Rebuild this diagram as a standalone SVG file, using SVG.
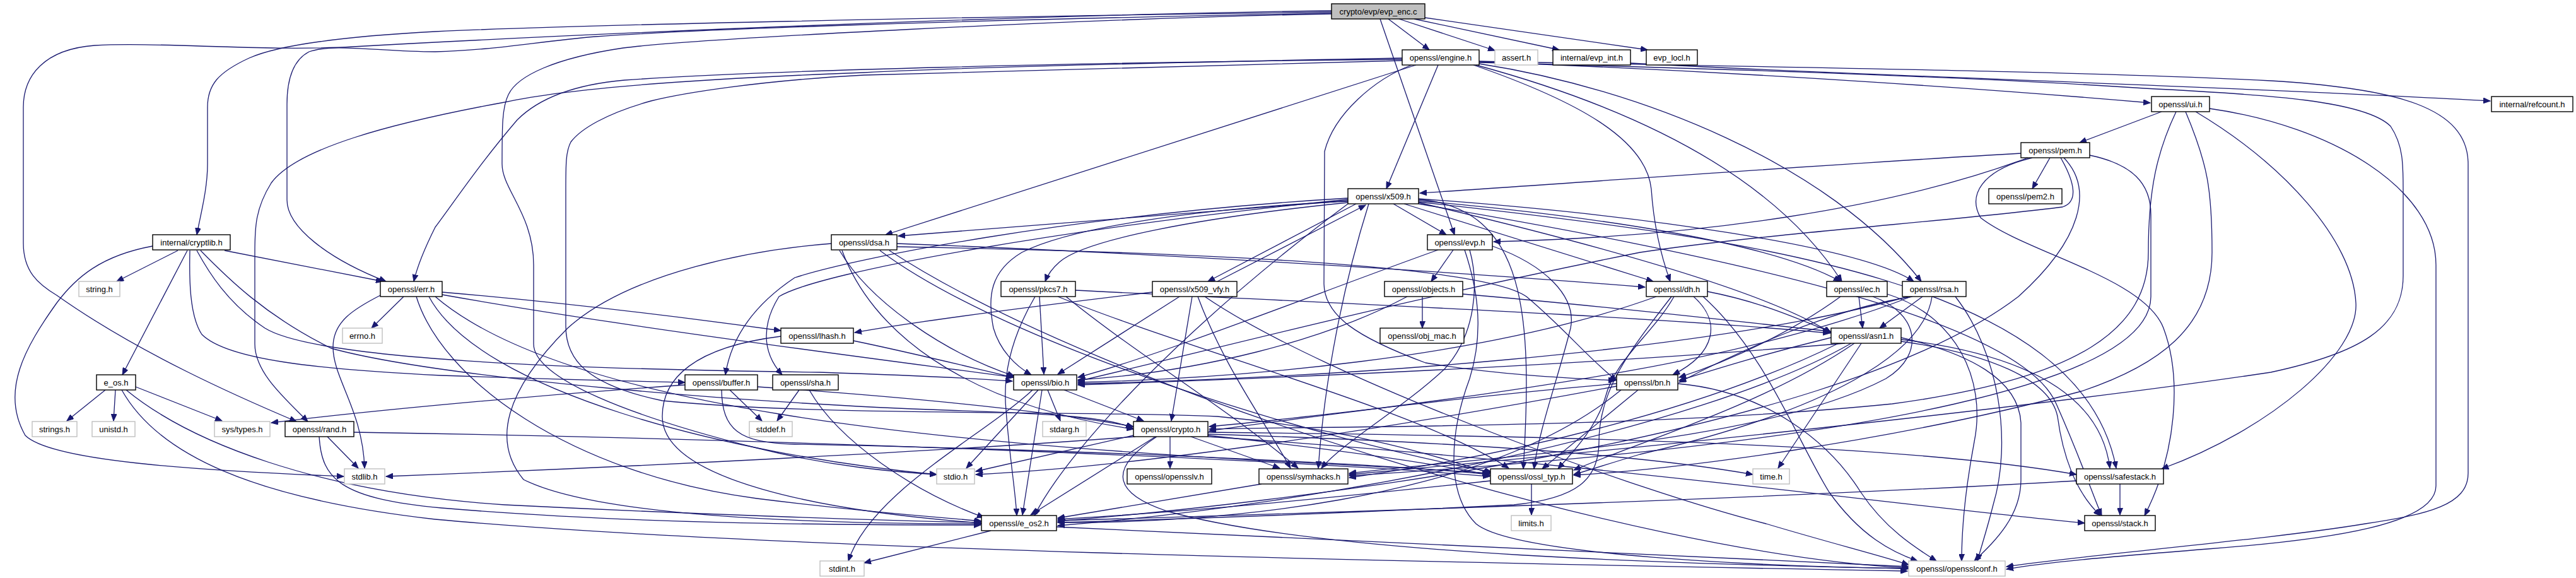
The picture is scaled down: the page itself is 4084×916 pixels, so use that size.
<svg xmlns="http://www.w3.org/2000/svg" width="4084" height="916" viewBox="0 0 4084 916">
<defs>
<marker id="arr" markerUnits="userSpaceOnUse" markerWidth="12" markerHeight="9" refX="11" refY="4.5" orient="auto"><path d="M0,0 L11,4.5 L0,9 Z" fill="#191970" stroke="#191970" stroke-width="1"/></marker>
<style>
.edges path{fill:none;stroke:#191970;stroke-width:1.3;marker-end:url(#arr)}
.node rect{fill:#fff;stroke:#000;stroke-width:1.4}
.node.sys rect{stroke:#bfbfbf}
.node.root rect{fill:#bfbfbf}
.node text{font-family:"Liberation Sans",Arial,Helvetica,sans-serif;font-size:13px;text-anchor:middle;fill:#000}
</style>
</defs>
<rect x="0" y="0" width="4084" height="916" fill="#fff"/>
<g id="connectors" class="edges">
<path d="M2201,30 L2266,79"/>
<path d="M2218,30 L2370,80"/>
<path d="M2242,30 L2472,79"/>
<path d="M2259,28 L2612,79"/>
<path d="M2188,30 L2306,372"/>
<path d="M2111,17 C1600,24 900,55 560,74 C420,82 250,66 150,72 C70,78 37,120 37,170 L37,385 C37,430 60,450 90,468 C220,560 380,630 470,668"/>
<path d="M2111,19 C1500,27 900,40 690,50 C540,58 440,72 395,92 C345,115 329,135 329,170 L329,260 C329,300 318,340 312,372"/>
<path d="M2111,21 C1500,32 1100,47 944,58 C850,66 780,80 690,82 C600,82 530,68 490,82 C465,95 455,125 455,165 L455,317 C455,360 520,410 612,446"/>
<path d="M2111,22 C1700,30 1100,62 988,76 C880,92 820,120 806,150 C796,170 796,200 796,260 C796,300 846,340 846,420 L846,545 C846,600 1000,660 1200,710 C1320,740 1420,748 1485,752"/>
<path d="M2280,103 L2198,299"/>
<path d="M2245,103 L1404,372"/>
<path d="M2238,103 C2180,125 2115,180 2100,240 L2099,450 C2100,500 2150,534 2260,575 C2380,595 2500,600 2561,603"/>
<path d="M2336,103 C2500,160 2610,220 2618,300 C2622,360 2635,410 2648,446"/>
<path d="M2340,103 C2550,160 2800,260 2920,446"/>
<path d="M2345,101 C2600,140 2900,260 3046,446"/>
<path d="M2223,92 C1800,100 1500,108 1370,115 C1100,125 900,140 800,162 C620,195 470,235 430,290 C405,330 404,360 404,400 L404,545 C404,590 450,630 488,668"/>
<path d="M2345,98 C2800,115 3200,145 3409,163"/>
<path d="M2223,94 C1700,99 1200,112 990,127 C900,135 850,160 820,190 C760,260 720,320 690,360 C675,390 662,420 656,446"/>
<path d="M2223,96 C1800,106 1500,114 1370,119 C1200,128 1080,148 1032,160 C960,180 920,205 905,225 C897,240 897,260 897,300 L897,517 C897,570 930,610 1050,635 C1300,660 1700,650 1930,660 C2150,680 2300,730 2363,750"/>
<path d="M2345,99 C2700,108 3100,120 3400,140 C3600,150 3750,160 3790,200 C3810,230 3810,260 3810,300 L3810,437 C3810,520 3740,560 3600,590 C3200,650 2500,720 2139,752"/>
<path d="M2345,97 C2700,105 3300,112 3600,128 C3800,140 3913,170 3913,260 L3913,750 C3913,800 3850,815 3750,830 C3600,855 3300,880 3181,898"/>
<path d="M2585,100 C2900,118 3500,135 3948,160"/>
<path d="M3427,177 L3297,226"/>
<path d="M3503,172 C3700,200 3862,300 3862,420 L3862,770 C3862,830 3700,855 3500,870 C3350,882 3250,890 3181,902"/>
<path d="M3450,177 C3420,240 3406,300 3406,400 C3406,520 3300,600 3000,640 C2600,680 2100,675 1917,680"/>
<path d="M3481,177 C3620,260 3730,380 3735,480 C3740,560 3600,680 3427,743"/>
<path d="M3465,177 C3500,260 3507,300 3507,400 C3507,520 3420,580 3300,620 C3000,700 2650,745 2495,753"/>
<path d="M3204,243 C2900,260 2500,290 2251,306"/>
<path d="M3250,250 L3222,299"/>
<path d="M3215,250 C3000,330 2700,375 2368,383"/>
<path d="M3222,250 C3140,270 3120,310 3140,345 C3210,400 3400,440 3430,520 C3460,600 3450,720 3400,817"/>
<path d="M3267,250 C3290,290 3295,320 3270,328 C3100,350 2800,370 2600,400 C2200,480 1900,560 1709,604"/>
<path d="M3272,250 C3320,300 3300,380 3200,470 C2900,700 2000,800 1677,826"/>
<path d="M3313,246 C3380,260 3410,290 3410,340 L3410,470 C3410,600 3000,700 2139,754"/>
<path d="M2209,323 L2293,372"/>
<path d="M2226,323 L2621,446"/>
<path d="M2137,318 L1424,374"/>
<path d="M2150,323 L1915,446"/>
<path d="M2137,321 C1900,345 1720,380 1680,415 C1665,428 1660,438 1657,446"/>
<path d="M2137,319 C1900,330 1700,360 1620,400 C1570,430 1565,470 1575,520 C1585,555 1610,580 1635,594"/>
<path d="M2137,316 C1700,360 1300,430 1235,470 C1210,510 1205,555 1240,594"/>
<path d="M2137,314 C1700,340 1350,410 1260,440 C1200,480 1160,530 1150,594"/>
<path d="M2249,318 C2500,340 2800,380 2918,446"/>
<path d="M2249,315 C2600,340 2950,390 3034,446"/>
<path d="M2249,321 C2500,380 2800,460 2903,528"/>
<path d="M2249,323 C2700,400 3200,500 3260,640 C3300,730 3320,790 3332,817"/>
<path d="M2249,320 C2800,380 3300,450 3355,742"/>
<path d="M2170,323 C2130,450 2100,600 2090,742"/>
<path d="M2249,316 C2420,330 2430,500 2415,743"/>
<path d="M2137,323 C1900,500 1700,700 1640,817"/>
<path d="M1870,470 L1677,593"/>
<path d="M1890,470 L1857,667"/>
<path d="M1899,470 C1940,580 2000,660 2046,742"/>
<path d="M1827,463 C1600,490 1450,510 1355,527"/>
<path d="M1910,470 C2100,600 2600,780 2800,830 C2900,860 2980,880 3026,895"/>
<path d="M1648,470 L1655,593"/>
<path d="M1641,470 C1600,540 1590,600 1595,650 C1600,720 1610,780 1612,817"/>
<path d="M1677,470 C1900,560 2250,650 2392,742"/>
<path d="M1705,460 C2100,480 2600,500 2901,528"/>
<path d="M1690,470 C1800,560 1950,650 2058,742"/>
<path d="M2255,470 L2255,520"/>
<path d="M2231,470 C2100,540 1900,590 1709,602"/>
<path d="M2319,466 C2600,490 2800,515 2901,525"/>
<path d="M2304,396 L2269,446"/>
<path d="M2280,396 C2100,460 1850,560 1709,598"/>
<path d="M2330,396 C2345,450 2340,530 2290,585 C2220,650 2130,700 2095,742"/>
<path d="M2366,390 C2450,420 2500,470 2490,520 C2470,600 2440,680 2432,743"/>
<path d="M2322,396 C2340,450 2355,520 2330,600 C2300,680 2290,780 2340,830 C2400,880 2800,898 3026,901"/>
<path d="M2685,470 C2730,510 2720,560 2652,594"/>
<path d="M2654,470 C2620,530 2560,570 2545,630 C2530,680 2490,720 2470,743"/>
<path d="M2650,470 C2580,560 2535,620 2535,700 C2535,760 2500,790 2400,800 C2100,815 1900,822 1677,828"/>
<path d="M2626,470 C2350,570 1950,600 1709,606"/>
<path d="M2707,462 C2800,480 2860,510 2903,526"/>
<path d="M2700,470 C2800,560 2850,700 2900,780 C2950,850 3000,875 3040,889"/>
<path d="M2947,470 L2953,520"/>
<path d="M2918,470 C2850,520 2750,570 2662,598"/>
<path d="M2969,470 C3040,495 3055,560 2990,600 C2800,700 2400,720 2139,750"/>
<path d="M2992,466 C3100,500 3150,600 3130,700 C3115,780 3110,840 3110,889"/>
<path d="M3048,470 L2980,520"/>
<path d="M3032,470 C2900,490 2750,560 2662,606"/>
<path d="M3025,470 C2700,560 2100,600 1709,608"/>
<path d="M3030,470 C2700,600 2200,640 1917,683"/>
<path d="M3063,470 C3050,560 2900,650 2600,720 C2550,735 2520,745 2495,752"/>
<path d="M3100,470 C3170,560 3190,700 3160,800 C3150,840 3140,870 3135,889"/>
<path d="M2951,544 L2819,742"/>
<path d="M3014,535 C3120,560 3200,600 3204,670 L3204,760 C3204,820 3160,860 3130,889"/>
<path d="M3014,541 C3150,560 3250,600 3262,660 C3270,720 3290,780 3330,817"/>
<path d="M3014,538 C3200,560 3330,620 3345,742"/>
<path d="M2903,535 C2800,560 2720,585 2662,603"/>
<path d="M2925,544 C2500,580 2000,600 1709,610"/>
<path d="M2935,544 C2700,680 2100,800 1677,833"/>
<path d="M2915,544 C2700,650 2400,720 2139,757"/>
<path d="M2940,544 C2800,640 2600,700 2495,745"/>
<path d="M2597,618 L2445,743"/>
<path d="M2563,608 C2300,630 2100,660 1917,676"/>
<path d="M2563,612 C2200,680 1800,740 1547,752"/>
<path d="M2570,618 C2350,800 1900,830 1677,828"/>
<path d="M2660,608 C2800,620 2900,700 2950,780 C2990,840 3040,870 3070,889"/>
<path d="M1646,618 L1532,742"/>
<path d="M1652,618 L1621,816"/>
<path d="M1661,618 L1681,667"/>
<path d="M1687,618 L1813,667"/>
<path d="M1637,618 C1560,690 1380,780 1345,889"/>
<path d="M1855,692 L1855,742"/>
<path d="M1797,690 L1547,747"/>
<path d="M1832,692 L1634,816"/>
<path d="M1800,692 C1500,715 1000,740 612,755"/>
<path d="M1888,692 L2029,742"/>
<path d="M1915,690 C2100,710 2250,730 2363,753"/>
<path d="M1915,688 C2300,700 2600,720 2779,752"/>
<path d="M1915,685 C2400,690 3000,700 3292,752"/>
<path d="M1915,692 C2500,730 3000,800 3305,829"/>
<path d="M1834,692 C1760,740 1760,780 1850,810 C2100,880 2700,895 3026,901"/>
<path d="M282,397 L185,446"/>
<path d="M297,397 L194,594"/>
<path d="M356,397 L607,446"/>
<path d="M242,390 C160,405 120,440 90,480 C40,550 0,620 40,690 C80,730 300,745 545,755"/>
<path d="M301,397 C300,440 300,500 320,530 C360,570 500,585 700,595 C900,602 1000,604 1086,606"/>
<path d="M312,397 C330,430 360,480 420,520 C500,570 900,585 1300,590 C1450,595 1550,600 1605,604"/>
<path d="M318,397 C360,440 420,500 525,552 C700,600 1200,640 1500,650 C1650,655 1760,660 1796,679"/>
<path d="M640,470 L589,520"/>
<path d="M603,468 C560,490 528,510 528,550 C528,600 575,650 578,742"/>
<path d="M701,463 C900,480 1100,505 1238,524"/>
<path d="M701,467 C1000,520 1400,570 1607,598"/>
<path d="M680,470 C760,620 1150,720 1485,752"/>
<path d="M660,470 C700,600 900,750 1200,790 C1400,815 1500,820 1556,826"/>
<path d="M690,470 C900,650 1500,700 2000,730 C2200,740 2300,745 2363,750"/>
<path d="M1353,540 C1450,560 1550,585 1607,598"/>
<path d="M1238,533 C1100,550 1050,600 1050,660 C1050,760 1300,810 1556,829"/>
<path d="M1157,618 L1208,667"/>
<path d="M1086,610 C800,630 550,655 430,670"/>
<path d="M1144,618 C1145,680 1170,702 1260,704 C1700,712 2200,735 2361,752"/>
<path d="M1201,613 C1450,630 1650,650 1797,676"/>
<path d="M1267,618 L1232,667"/>
<path d="M1283,618 C1330,700 1450,780 1560,820"/>
<path d="M519,692 L568,742"/>
<path d="M561,685 C1200,695 2000,725 2362,755"/>
<path d="M506,692 C510,760 540,790 700,805 C1000,830 1300,832 1555,832"/>
<path d="M167,618 L106,667"/>
<path d="M183,618 L180,667"/>
<path d="M215,613 L352,667"/>
<path d="M200,618 C300,700 500,780 800,800 C1100,815 1400,825 1555,828"/>
<path d="M193,618 C250,720 400,790 690,823 C1200,870 2200,890 3024,905"/>
<path d="M2000,767 L1677,821"/>
<path d="M2428,767 L2428,816"/>
<path d="M2363,762 C2100,790 1900,810 1677,823"/>
<path d="M3361,767 L3361,816"/>
<path d="M3292,762 C2800,790 2200,810 1677,825"/>
<path d="M1571,841 L1370,892"/>
<path d="M1675,835 C2200,860 2700,885 3026,898"/>
<path d="M1930,446 L2165,325"/>
<path d="M1422,386 C1800,400 2300,430 2608,455"/>
<path d="M1422,391 C1900,400 2350,420 2420,470 C2480,520 2520,570 2563,603"/>
<path d="M1331,397 C1380,480 1500,560 1608,596"/>
<path d="M1335,397 C1380,520 1520,640 1797,680"/>
<path d="M1318,386 C1200,395 1000,430 900,520 C800,620 780,700 830,760 C950,820 1300,830 1556,830"/>
<path d="M1395,397 C1600,550 2100,700 2365,748"/>
<path d="M1410,397 C1750,620 2600,880 3026,900"/>
</g>
<g id="n_root" class="node root"><rect x="2111" y="6" width="148" height="24"/><text x="2185" y="23">crypto/evp/evp_enc.c</text></g>
<g id="n_engine" class="node"><rect x="2223" y="79" width="122" height="24"/><text x="2284" y="96">openssl/engine.h</text></g>
<g id="n_assert" class="node sys"><rect x="2370" y="79" width="68" height="24"/><text x="2404" y="96">assert.h</text></g>
<g id="n_evp_int" class="node"><rect x="2462" y="79" width="123" height="24"/><text x="2523.5" y="96">internal/evp_int.h</text></g>
<g id="n_evp_locl" class="node"><rect x="2610" y="79" width="81" height="24"/><text x="2650.5" y="96">evp_locl.h</text></g>
<g id="n_ui" class="node"><rect x="3411" y="153" width="92" height="24"/><text x="3457" y="170">openssl/ui.h</text></g>
<g id="n_refcount" class="node"><rect x="3950" y="153" width="129" height="24"/><text x="4014.5" y="170">internal/refcount.h</text></g>
<g id="n_pem" class="node"><rect x="3204" y="226" width="109" height="24"/><text x="3258.5" y="243">openssl/pem.h</text></g>
<g id="n_x509" class="node"><rect x="2137" y="299" width="112" height="24"/><text x="2193" y="316">openssl/x509.h</text></g>
<g id="n_pem2" class="node"><rect x="3153" y="299" width="116" height="24"/><text x="3211" y="316">openssl/pem2.h</text></g>
<g id="n_cryptlib" class="node"><rect x="242" y="372" width="123" height="24"/><text x="303.5" y="389">internal/cryptlib.h</text></g>
<g id="n_dsa" class="node"><rect x="1318" y="372" width="104" height="24"/><text x="1370" y="389">openssl/dsa.h</text></g>
<g id="n_evp" class="node"><rect x="2263" y="372" width="103" height="24"/><text x="2314.5" y="389">openssl/evp.h</text></g>
<g id="n_string" class="node sys"><rect x="125" y="446" width="65" height="24"/><text x="157.5" y="463">string.h</text></g>
<g id="n_err" class="node"><rect x="603" y="446" width="98" height="24"/><text x="652" y="463">openssl/err.h</text></g>
<g id="n_pkcs7" class="node"><rect x="1587" y="446" width="118" height="24"/><text x="1646" y="463">openssl/pkcs7.h</text></g>
<g id="n_x509_vfy" class="node"><rect x="1827" y="446" width="134" height="24"/><text x="1894" y="463">openssl/x509_vfy.h</text></g>
<g id="n_objects" class="node"><rect x="2195" y="446" width="124" height="24"/><text x="2257" y="463">openssl/objects.h</text></g>
<g id="n_dh" class="node"><rect x="2610" y="446" width="97" height="24"/><text x="2658.5" y="463">openssl/dh.h</text></g>
<g id="n_ec" class="node"><rect x="2896" y="446" width="96" height="24"/><text x="2944" y="463">openssl/ec.h</text></g>
<g id="n_rsa" class="node"><rect x="3016" y="446" width="101" height="24"/><text x="3066.5" y="463">openssl/rsa.h</text></g>
<g id="n_errno" class="node sys"><rect x="543" y="520" width="63" height="24"/><text x="574.5" y="537">errno.h</text></g>
<g id="n_lhash" class="node"><rect x="1238" y="520" width="115" height="24"/><text x="1295.5" y="537">openssl/lhash.h</text></g>
<g id="n_obj_mac" class="node"><rect x="2188" y="520" width="133" height="24"/><text x="2254.5" y="537">openssl/obj_mac.h</text></g>
<g id="n_asn1" class="node"><rect x="2903" y="520" width="111" height="24"/><text x="2958.5" y="537">openssl/asn1.h</text></g>
<g id="n_e_os" class="node"><rect x="153" y="594" width="62" height="24"/><text x="184" y="611">e_os.h</text></g>
<g id="n_buffer" class="node"><rect x="1086" y="594" width="115" height="24"/><text x="1143.5" y="611">openssl/buffer.h</text></g>
<g id="n_sha" class="node"><rect x="1225" y="594" width="104" height="24"/><text x="1277" y="611">openssl/sha.h</text></g>
<g id="n_bio" class="node"><rect x="1607" y="594" width="100" height="24"/><text x="1657" y="611">openssl/bio.h</text></g>
<g id="n_bn" class="node"><rect x="2563" y="594" width="97" height="24"/><text x="2611.5" y="611">openssl/bn.h</text></g>
<g id="n_strings" class="node sys"><rect x="51" y="668" width="71" height="24"/><text x="86.5" y="685">strings.h</text></g>
<g id="n_unistd" class="node sys"><rect x="146" y="668" width="68" height="24"/><text x="180" y="685">unistd.h</text></g>
<g id="n_systypes" class="node sys"><rect x="340" y="668" width="88" height="24"/><text x="384" y="685">sys/types.h</text></g>
<g id="n_rand" class="node"><rect x="452" y="668" width="109" height="24"/><text x="506.5" y="685">openssl/rand.h</text></g>
<g id="n_stddef" class="node sys"><rect x="1188" y="668" width="68" height="24"/><text x="1222" y="685">stddef.h</text></g>
<g id="n_stdarg" class="node sys"><rect x="1653" y="668" width="69" height="24"/><text x="1687.5" y="685">stdarg.h</text></g>
<g id="n_crypto" class="node"><rect x="1797" y="668" width="118" height="24"/><text x="1856" y="685">openssl/crypto.h</text></g>
<g id="n_stdlib" class="node sys"><rect x="546" y="743" width="64" height="24"/><text x="578" y="760">stdlib.h</text></g>
<g id="n_stdio" class="node sys"><rect x="1485" y="743" width="60" height="24"/><text x="1515" y="760">stdio.h</text></g>
<g id="n_opensslv" class="node"><rect x="1787" y="743" width="134" height="24"/><text x="1854" y="760">openssl/opensslv.h</text></g>
<g id="n_symhacks" class="node"><rect x="1996" y="743" width="141" height="24"/><text x="2066.5" y="760">openssl/symhacks.h</text></g>
<g id="n_ossl_typ" class="node"><rect x="2363" y="743" width="130" height="24"/><text x="2428" y="760">openssl/ossl_typ.h</text></g>
<g id="n_time" class="node sys"><rect x="2779" y="743" width="58" height="24"/><text x="2808" y="760">time.h</text></g>
<g id="n_safestack" class="node"><rect x="3292" y="743" width="138" height="24"/><text x="3361" y="760">openssl/safestack.h</text></g>
<g id="n_e_os2" class="node"><rect x="1556" y="817" width="119" height="24"/><text x="1615.5" y="834">openssl/e_os2.h</text></g>
<g id="n_limits" class="node sys"><rect x="2396" y="817" width="63" height="24"/><text x="2427.5" y="834">limits.h</text></g>
<g id="n_stack" class="node"><rect x="3305" y="817" width="112" height="24"/><text x="3361" y="834">openssl/stack.h</text></g>
<g id="n_stdint" class="node sys"><rect x="1300" y="889" width="70" height="24"/><text x="1335" y="906">stdint.h</text></g>
<g id="n_opensslconf" class="node sys"><rect x="3026" y="889" width="153" height="24"/><text x="3102.5" y="906">openssl/opensslconf.h</text></g>
</svg>
